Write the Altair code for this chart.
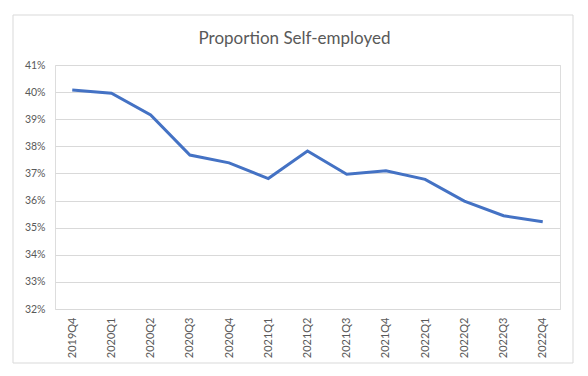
import altair as alt
import pandas as pd

quarters = ["2019Q4", "2020Q1", "2020Q2", "2020Q3", "2020Q4", "2021Q1", "2021Q2",
            "2021Q3", "2021Q4", "2022Q1", "2022Q2", "2022Q3", "2022Q4"]
proportion = [0.4008, 0.3996, 0.3916, 0.3768, 0.3739, 0.3681, 0.3783,
              0.3697, 0.3710, 0.3678, 0.3598, 0.3544, 0.3522]
y_ticks = [0.32, 0.33, 0.34, 0.35, 0.36, 0.37, 0.38, 0.39, 0.40, 0.41]

df = pd.DataFrame({"quarter": quarters, "value": proportion})

FONT = "Lato"
GREY = "#595959"

border = alt.Chart(df).mark_rect(fill=None, stroke="#d9d9d9", strokeWidth=1, clip=False).encode(
    x=alt.value(-42), x2=alt.value(518), y=alt.value(-50), y2=alt.value(298)
).transform_filter("datum.quarter == '2019Q4'")

line = alt.Chart(df).mark_line(color="#4472C4", strokeWidth=3).encode(
    x=alt.X("quarter:N", sort=quarters,
            scale=alt.Scale(type="point", padding=0.44),
            axis=alt.Axis(title=None, labelAngle=-90, ticks=False, domain=False,
                          labelPadding=8, labelFont=FONT, labelFontSize=11,
                          labelColor=GREY)),
    y=alt.Y("value:Q",
            scale=alt.Scale(domain=[0.32, 0.41], zero=False, nice=False),
            axis=alt.Axis(title=None, values=y_ticks, format=".0%", ticks=False,
                          domain=False, grid=True, gridColor="#d9d9d9",
                          gridWidth=1, labelPadding=10, labelFont=FONT,
                          labelFontSize=10.5, labelColor=GREY)),
)

chart = alt.layer(border, line).properties(
    width=505, height=244,
    title=alt.Title("Proportion Self-employed", font=FONT, fontSize=17,
                    fontWeight="normal", color=GREY, anchor="middle",
                    frame="group", dx=-13, offset=-33),
    autosize=alt.AutoSizeParams(type="none"),
    padding={"left": 55, "top": 65, "right": 28, "bottom": 67},
).configure_view(stroke=None).configure(background="white")

chart.save("out.html", embed_options={"renderer": "svg", "actions": False})
